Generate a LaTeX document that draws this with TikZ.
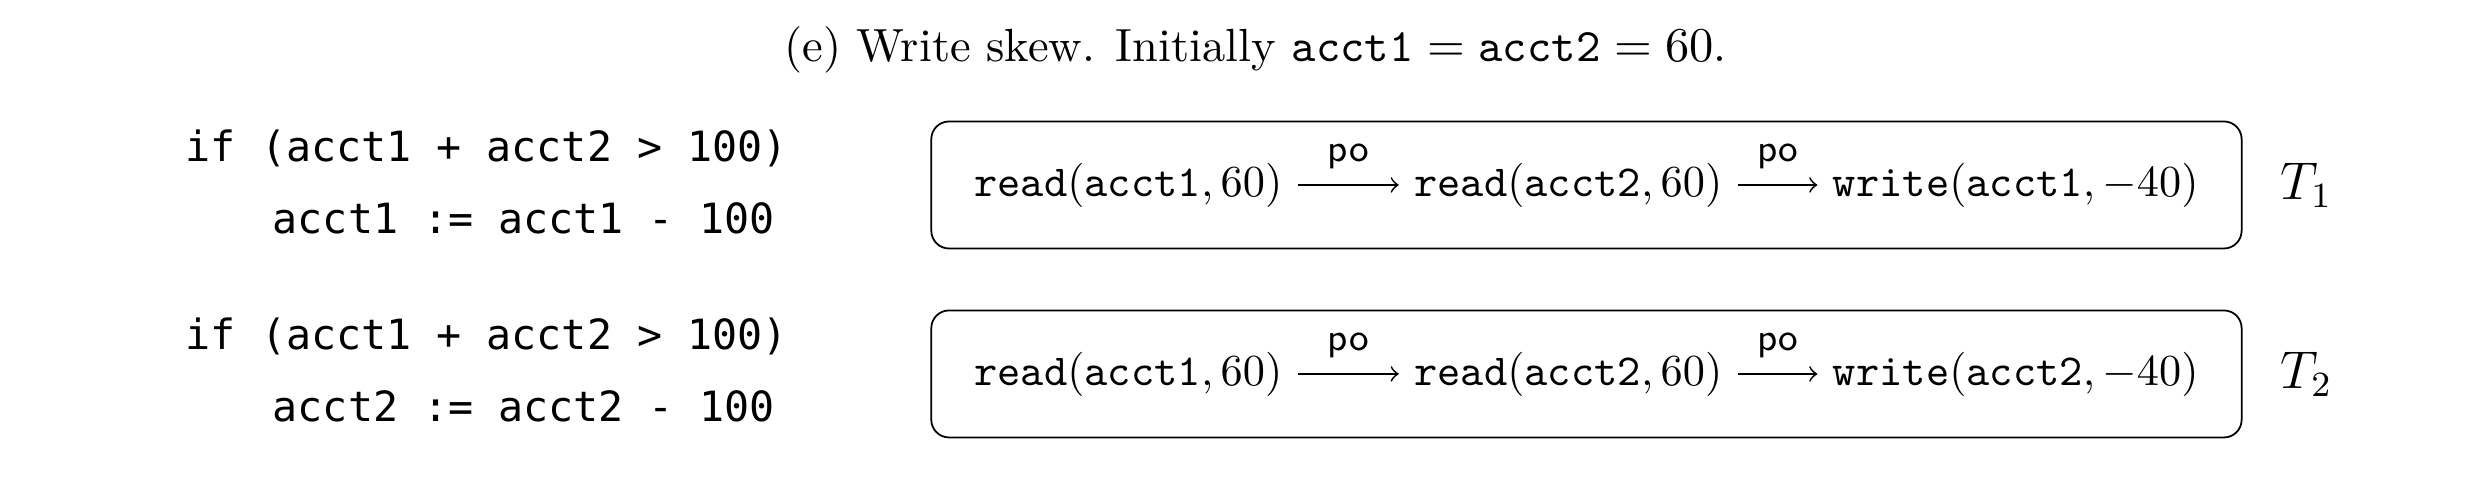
\documentclass[tikz,border=0pt]{standalone}
\usepackage{fontspec}
\newfontfamily\codefont{DejaVu Sans Mono}
\usetikzlibrary{positioning,fit}

\tikzset{
  code/.style={anchor=base west,font=\codefont\fontsize{9.4}{11}\selectfont},
  txbox/.style={draw,rounded corners=4pt,inner xsep=6.2pt,inner ysep=5.8pt},
  po/.style={above,font=\sffamily\fontsize{8.6}{10}\selectfont},
}

\begin{document}
\begin{tikzpicture}
    \useasboundingbox (0,0) rectangle (19.64,-3.855);
    \node[anchor=base,font=\fontsize{10.5}{12}\selectfont] (title) at (9.96,-0.49) {(e) Write skew. Initially $\texttt{acct1} = \texttt{acct2} = 60$.};
    %  row/ centre of box/ baseline of code
    \foreach \i/\y/\yc in {1/-1.467/-1.277, 2/-2.966/-2.776} {
      \node[code] (ca\i) at (1.35,\yc) {if (acct1 + acct2 > 100)};
      \node[code] (cb\i) at (2.04,\yc-0.571) {acct\i{} := acct\i{} - 100};
      \node (ra\i) at (8.95,\y) {$\texttt{read}(\texttt{acct1}, 60)$};
      \node[right=0.8cm of ra\i] (rb\i) {$\texttt{read}(\texttt{acct2}, 60)$};
      \node[right=0.63cm of rb\i] (w\i) {$\texttt{write}(\texttt{acct\i}, -40)$};
      \draw[->] (ra\i) -- node[po] {po} (rb\i);
      \draw[->] (rb\i) -- node[po] {po} (w\i);
      \node[txbox,fit=(ra\i)(w\i)] (box\i) {};
      \node[right=0.18cm of box\i,font=\large] (t\i) {$T_\i$};
    }
\end{tikzpicture}
\end{document}
